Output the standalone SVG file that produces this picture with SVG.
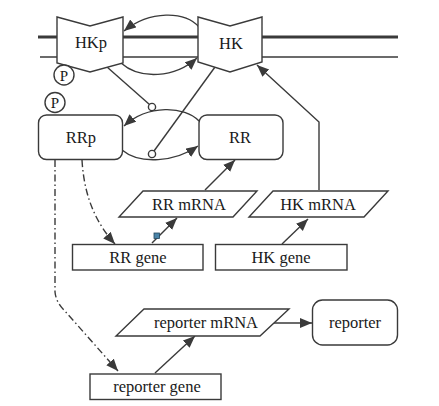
<svg xmlns="http://www.w3.org/2000/svg" width="439" height="406" viewBox="0 0 439 406">
<defs>
<style>
.shape{fill:#fff;stroke:#3a3a3a;stroke-width:1.4}
.con{fill:none;stroke:#3a3a3a;stroke-width:1.4}
.dd{stroke-dasharray:7,3,1.5,3}
.mem{stroke:#3a3a3a;fill:none}
</style>
<marker id="ah" markerUnits="userSpaceOnUse" markerWidth="13" markerHeight="11" refX="12" refY="5" orient="auto">
<path d="M0,0 L12,5 L0,10 Z" fill="#3a3a3a"/>
</marker>
</defs>
<rect width="439" height="406" fill="#fff"/>
<g id="membrane">
<line class="mem" x1="38" y1="37" x2="398" y2="37" stroke-width="3"/>
<line class="mem" x1="40" y1="57" x2="398" y2="57" stroke-width="1.3"/>
</g>
<g id="connectors">
<path class="con" d="M199,27 C185,11 150,10 124,31" marker-end="url(#ah)"/>
<path class="con" d="M121,63 C140,80 175,78 197,58" marker-end="url(#ah)"/>
<path class="con" d="M199,121 C185,106 148,104 124,126" marker-end="url(#ah)"/>
<path class="con" d="M122,150 C140,165 175,162 198,146" marker-end="url(#ah)"/>
<line class="con" x1="107" y1="67" x2="149.5" y2="104.5"/>
<line class="con" x1="215" y1="67" x2="154" y2="151"/>
<circle cx="152" cy="107" r="3.6" class="shape"/>
<circle cx="152" cy="154" r="3.6" class="shape"/>
<line class="con" x1="205" y1="190" x2="235" y2="160" marker-end="url(#ah)"/>
<path class="con" d="M319,190 L319,122 L257,65" marker-end="url(#ah)"/>
<line class="con" x1="152" y1="243" x2="177" y2="218" marker-end="url(#ah)"/>
<line class="con" x1="282" y1="244" x2="308" y2="219" marker-end="url(#ah)"/>
<line class="con" x1="155" y1="373" x2="195" y2="336" marker-end="url(#ah)"/>
<line class="con" x1="273" y1="323" x2="312" y2="323" marker-end="url(#ah)"/>
<path class="con dd" d="M82,160 C84,195 95,222 115,244" marker-end="url(#ah)"/>
<path class="con dd" d="M55,160 L55,292 Q56,302 64,310 L118,371" marker-end="url(#ah)"/>
<rect x="154" y="233" width="5.5" height="5.5" fill="#4a84a8" stroke="#24465c" stroke-width="0.8"/>
</g>
<g id="HKp">
<path class="shape" d="M57,17 L90,26 L123,17 L123,63 L90,72 L57,63 Z"/>
<text font-family="Liberation Serif" font-size="16.5" text-anchor="middle" fill="#1a1a1a" x="91" y="48">HKp</text>
</g>
<g id="HK">
<path class="shape" d="M198,17 L230,26 L262,17 L262,62 L230,72 L198,62 Z"/>
<text font-family="Liberation Serif" font-size="16.5" text-anchor="middle" fill="#1a1a1a" x="231" y="49">HK</text>
</g>
<g id="P1">
<circle class="shape" cx="64" cy="75" r="10"/>
<text font-family="Liberation Serif" font-size="15" text-anchor="middle" fill="#1a1a1a" x="64" y="80.5">P</text>
</g>
<g id="P2">
<circle class="shape" cx="55" cy="102.5" r="10"/>
<text font-family="Liberation Serif" font-size="15" text-anchor="middle" fill="#1a1a1a" x="55" y="108">P</text>
</g>
<g id="RRp">
<rect class="shape" x="38.5" y="115" width="84" height="44.5" rx="8"/>
<text font-family="Liberation Serif" font-size="16.5" text-anchor="middle" fill="#1a1a1a" x="81" y="143">RRp</text>
</g>
<g id="RR">
<rect class="shape" x="199" y="115" width="84" height="44.5" rx="8"/>
<text font-family="Liberation Serif" font-size="16.5" text-anchor="middle" fill="#1a1a1a" x="240" y="143">RR</text>
</g>
<g id="RRmRNA">
<path class="shape" d="M143,191 L257,191 L233,217 L119,217 Z"/>
<text font-family="Liberation Serif" font-size="16.5" text-anchor="middle" fill="#1a1a1a" x="189" y="210">RR mRNA</text>
</g>
<g id="HKmRNA">
<path class="shape" d="M273,191 L388,191 L364,217 L249,217 Z"/>
<text font-family="Liberation Serif" font-size="16.5" text-anchor="middle" fill="#1a1a1a" x="318" y="210">HK mRNA</text>
</g>
<g id="RRgene">
<rect class="shape" x="72.5" y="244.5" width="130.5" height="25.5"/>
<text font-family="Liberation Serif" font-size="16.5" text-anchor="middle" fill="#1a1a1a" x="138" y="262.5">RR gene</text>
</g>
<g id="HKgene">
<rect class="shape" x="215.5" y="244.5" width="131.5" height="25.5"/>
<text font-family="Liberation Serif" font-size="16.5" text-anchor="middle" fill="#1a1a1a" x="281" y="262.5">HK gene</text>
</g>
<g id="reportermRNA">
<path class="shape" d="M144,309 L289,309 L260,336 L116,336 Z"/>
<text font-family="Liberation Serif" font-size="16.5" text-anchor="middle" fill="#1a1a1a" x="206" y="328">reporter mRNA</text>
</g>
<g id="reporter">
<rect class="shape" x="312.5" y="300" width="85" height="45" rx="10"/>
<text font-family="Liberation Serif" font-size="16.5" text-anchor="middle" fill="#1a1a1a" x="355" y="327.5">reporter</text>
</g>
<g id="reportergene">
<rect class="shape" x="90" y="374" width="131" height="25.5"/>
<text font-family="Liberation Serif" font-size="16.5" text-anchor="middle" fill="#1a1a1a" x="157" y="391.5">reporter gene</text>
</g>
</svg>
